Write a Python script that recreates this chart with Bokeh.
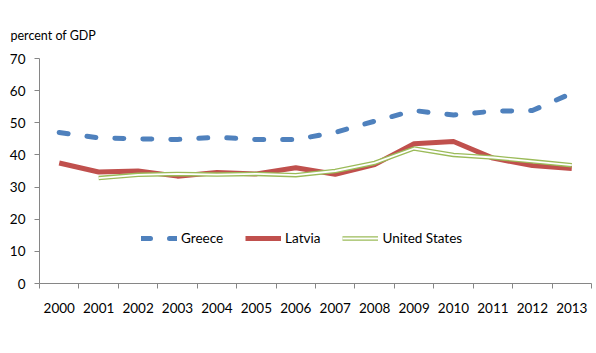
from bokeh.plotting import figure
from bokeh.models import FixedTicker, Legend, LegendItem, Range1d
from bokeh.embed import file_html
from bokeh.resources import INLINE

years = ["2000", "2001", "2002", "2003", "2004", "2005", "2006",
         "2007", "2008", "2009", "2010", "2011", "2012", "2013"]
greece = [47.0, 45.3, 45.0, 44.8, 45.5, 44.8, 44.8, 47.0, 50.5, 53.8, 52.4, 53.6, 53.8, 59.2]
latvia = [37.5, 34.7, 35.0, 33.4, 34.5, 34.1, 36.0, 34.0, 37.0, 43.5, 44.2, 39.0, 36.7, 35.8]
us_years = years[1:]
united_states = [32.8, 33.8, 34.1, 33.9, 34.1, 33.7, 35.0, 37.5, 42.0, 40.0, 39.2, 38.0, 36.8]

FONT = "Lato"
xi = list(range(len(years)))
xi_us = [years.index(y) for y in us_years]

p = figure(width=596, height=353, output_backend="svg", toolbar_location=None,
           x_range=Range1d(-0.5, len(years) - 0.5), y_range=Range1d(0, 70),
           min_border_left=39, min_border_right=5, min_border_top=58, min_border_bottom=70,
           title="percent of GDP")
p.outline_line_color = None
p.xgrid.visible = False
p.ygrid.visible = False
p.background_fill_color = "white"
p.border_fill_color = "white"

p.title.align = "left"
p.title.offset = -29
p.title.standoff = 32
p.title.text_font = FONT
p.title.text_font_size = "12.5px"
p.title.text_font_style = "normal"
p.title.text_color = "black"

r_gr = p.line(xi, greece, line_color="#4F81BD", line_width=5, line_dash="9 19",
              line_cap="round", line_join="round")
r_lv = p.line(xi, latvia, line_color="#C0504D", line_width=5, line_join="round")
r_us1 = p.line(xi_us, united_states, line_color="#9BBB59", line_width=4.5, line_join="round")
r_us2 = p.line(xi_us, united_states, line_color="white", line_width=1.8, line_join="round")

# axes
ax = p.xaxis[0]
ax.ticker = FixedTicker(ticks=xi, minor_ticks=[i - 0.5 for i in range(len(years) + 1)])
ax.major_label_overrides = {i: y for i, y in enumerate(years)}
ax.major_tick_out = 0
ax.major_tick_in = 0
ax.minor_tick_out = 5
ax.minor_tick_in = 0
ax.minor_tick_line_color = "#868686"
ax.axis_line_color = "#868686"
ax.major_label_standoff = 14
ax.major_label_text_font = FONT
ax.major_label_text_font_size = "13.5px"
ax.major_label_text_color = "black"

ay = p.yaxis[0]
ay.ticker = FixedTicker(ticks=[0, 10, 20, 30, 40, 50, 60, 70])
ay.major_tick_out = 5
ay.major_tick_in = 0
ay.minor_tick_out = 0
ay.minor_tick_in = 0
ay.major_tick_line_color = "#868686"
ay.axis_line_color = "#868686"
ay.major_label_standoff = 9
ay.major_label_text_font = FONT
ay.major_label_text_font_size = "13.5px"
ay.major_label_text_color = "black"

legend = Legend(items=[
    LegendItem(label="Greece", renderers=[r_gr]),
    LegendItem(label="Latvia", renderers=[r_lv]),
    LegendItem(label="United States", renderers=[r_us1, r_us2]),
], location=(102, 36), orientation="horizontal", glyph_width=36, glyph_height=18,
    label_standoff=4, spacing=22, padding=0, margin=0, border_line_color=None,
    background_fill_alpha=0, label_text_font=FONT, label_text_font_size="13.5px",
    label_text_color="black")
p.add_layout(legend, "center")

open("out.html", "w").write(file_html(p, INLINE))
